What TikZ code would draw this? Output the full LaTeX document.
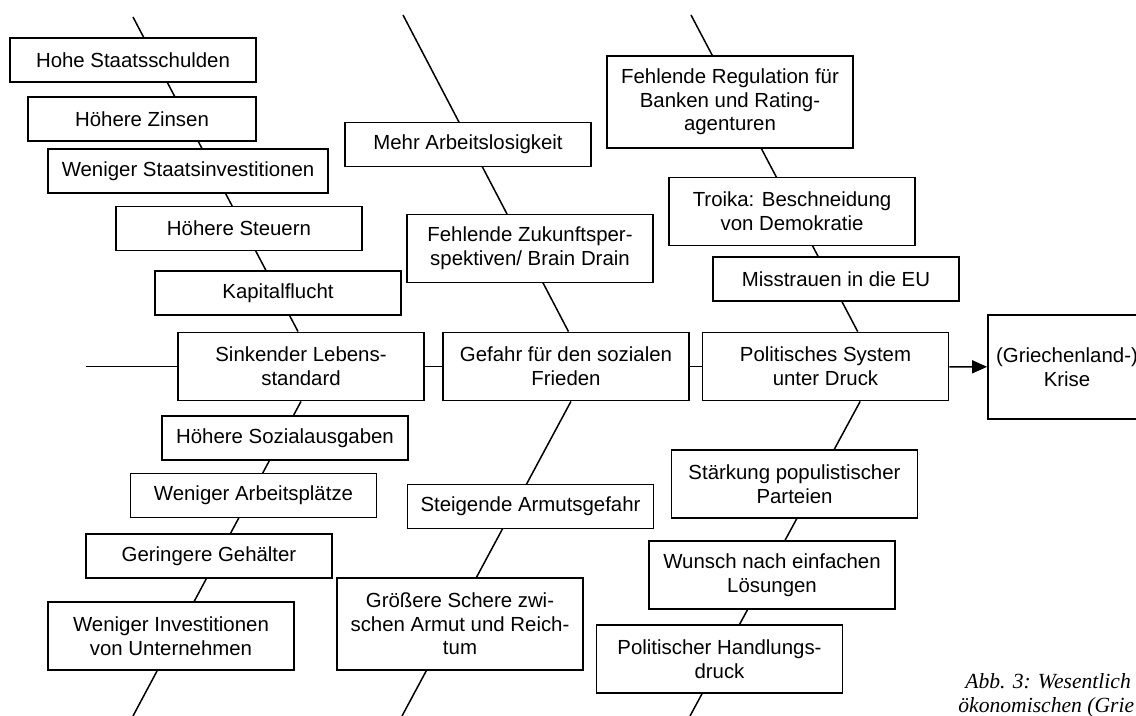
\documentclass[tikz,border=0pt]{standalone}
\usepackage{fontspec}
\setmainfont{Liberation Sans}
\newfontfamily\capfont{Liberation Serif}
\usepackage{tikz}
\usetikzlibrary{arrows.meta, backgrounds, calc}

\begin{document}
\begin{tikzpicture}[
    x=0.5pt, y=-0.5pt,
    block/.style={rectangle, draw=black, fill=white, line width=0.9pt, minimum width=123pt, minimum height=22pt, align=center, inner sep=2pt, font=\fontsize{10.2}{11.8}\selectfont},
    two/.style={minimum height=34pt},
    three/.style={minimum height=46pt},
    bone/.style={line width=0.75pt, draw=black},
    arrow/.style={line width=0.75pt, draw=black, -{Triangle[length=7.5pt, width=6.5pt]}},
    caption/.style={anchor=base west, inner sep=0pt, font=\capfont\itshape\fontsize{10.8}{13}\selectfont}
]
    \useasboundingbox (0,0) rectangle (1136,716);

    % Nodes
    \node (hohe) [block] at (133,60) {Hohe Staatsschulden};
    \node (zinsen) [block, minimum width=114pt] at (142,119) {Höhere Zinsen};
    \node (staat) [block, minimum width=140pt] at (188,171) {Weniger Staatsinvestitionen};
    \node (steuern) [block] at (239,228.5) {Höhere Steuern};
    \node (kapital) [block] at (278,293) {Kapitalflucht};
    \node (lebens) [block, two] at (301,366.5) {Sinkender Lebens-\\standard};
    \node (sozial) [block] at (285,438) {Höhere Sozialausgaben};
    \node (plaetze) [block] at (253.5,495.5) {Weniger Arbeitsplätze};
    \node (gehalt) [block] at (209,556) {Geringere Gehälter};
    \node (invest) [block, two] at (171,636) {Weniger Investitionen\\von Unternehmen};

    \node (arbeit) [block] at (468,144.5) {Mehr Arbeitslosigkeit};
    \node (zukunft) [block, two] at (530,248.5) {Fehlende Zukunftsper-\\spektiven/ Brain Drain};
    \node (frieden) [block, two] at (566,366.5) {Gefahr für den sozialen\\Frieden};
    \node (armut) [block] at (530.5,506.5) {Steigende Armutsgefahr};
    \node (schere) [block, three] at (460,624) {Größere Schere zwi-\\schen Armut und Reich-\\tum};

    \node (regul) [block, three] at (730,102) {Fehlende Regulation für\\Banken und Rating-\\agenturen};
    \node (troika) [block, two] at (792,211.5) {Troika: Beschneidung\\von Demokratie};
    \node (eu) [block] at (836,279) {Misstrauen in die EU};
    \node (politik) [block, two] at (825.5,366.5) {Politisches System\\unter Druck};
    \node (populist) [block, two] at (794.5,484) {Stärkung populistischer\\Parteien};
    \node (wunsch) [block, two] at (772,575) {Wunsch nach einfachen\\Lösungen};
    \node (druck) [block, two] at (719.5,659) {Politischer Handlungs-\\druck};

    \node (krise) [block, minimum width=79pt, minimum height=52pt] at (1067,367) {(Griechenland-)\\Krise};

    \node (capa) [caption] at (965,689) {Abb. 3: Wesentlich};
    \node (capb) [caption] at (958,712) {ökonomischen (Grie};

    % Bones
    \coordinate (spine) at (86,366.5);
    \coordinate (ltop) at (133,17);
    \coordinate (lbot) at (133,716);
    \coordinate (mtop) at (403,15);
    \coordinate (mbot) at (402,716);
    \coordinate (rtop) at (691,15);
    \coordinate (rbot) at (690,716);

    \begin{scope}[on background layer]
        \draw [bone] (ltop) -- ($(lebens.north west)!0.488!(lebens.north east)$);
        \draw [bone] (lebens.south) -- (lbot);
        \draw [bone] (mtop) -- ($(frieden.north west)!0.51!(frieden.north east)$);
        \draw [bone] ($(frieden.south west)!0.52!(frieden.south east)$) -- (mbot);
        \draw [bone] (rtop) -- ($(politik.north west)!0.63!(politik.north east)$);
        \draw [bone] ($(politik.south west)!0.64!(politik.south east)$) -- (rbot);
    \end{scope}

    % Flows
    \draw [bone] (spine) -- (lebens);
    \draw [bone] (lebens) -- (frieden);
    \draw [bone] (frieden) -- (politik);
    \draw [arrow] (politik) -- (krise);

\end{tikzpicture}
\end{document}
